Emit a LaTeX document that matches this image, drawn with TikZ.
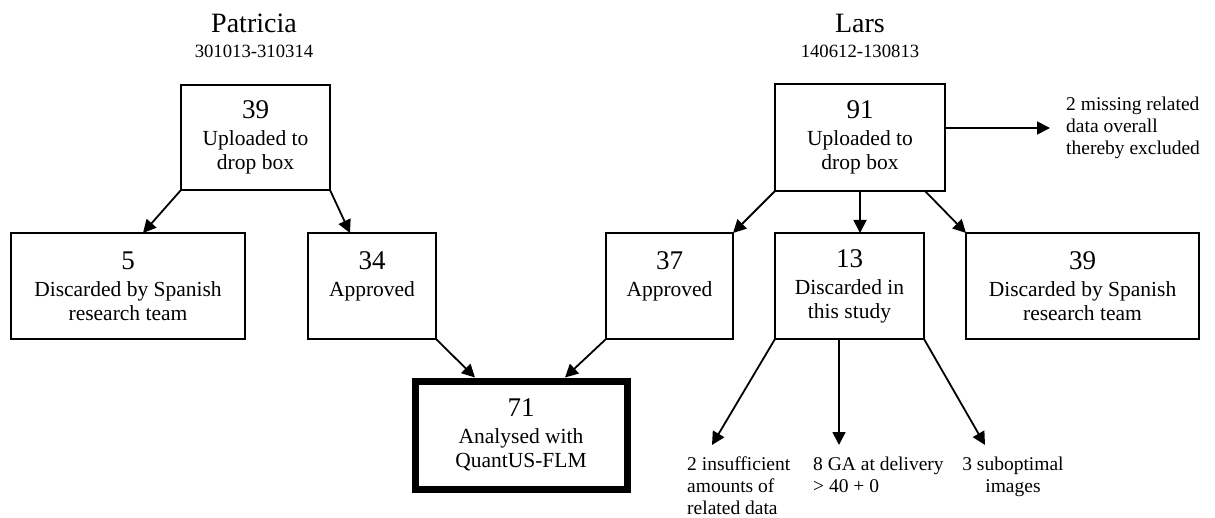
\documentclass[tikz,border=0pt]{standalone}
\usepackage{fontspec}
\setmainfont{Liberation Serif}
\usetikzlibrary{arrows.meta}
\newcommand{\numf}{\fontsize{27}{24}\selectfont}
\begin{document}
\begin{tikzpicture}[x=1pt,y=-1pt,
  box/.style={draw,line width=1.5pt,outer sep=0pt,inner sep=0pt,align=center,
    font=\fontsize{21.5}{24}\selectfont},
  thickbox/.style={box,line width=7pt},
  note/.style={inner sep=0pt,font=\fontsize{19.5}{22}\selectfont},
  title/.style={inner sep=0pt,anchor=base,font=\fontsize{28}{30}\selectfont},
  dates/.style={inner sep=0pt,anchor=base,font=\fontsize{18.7}{20}\selectfont},
  arr/.style={line width=1.8pt,-{Triangle[length=13pt,width=13pt]}}]
\useasboundingbox (0,0) rectangle (1215,518);
% titles
\node[title] (pt) at (254,33) {Patricia};
\node[dates] (pd) at (254,58) {301013-310314};
\node[title] (lt) at (860,33) {Lars};
\node[dates] (ld) at (860,58) {140612-130813};
% Patricia boxes
\node[box,minimum width=149pt,minimum height=105pt] (P39) at (255.5,137.5)
  {{\numf 39}\\[3pt]Uploaded to\\drop box};
\node[box,minimum width=234pt,minimum height=106pt] (P5) at (128,286)
  {{\numf 5}\\[3pt]Discarded by Spanish\\research team};
\node[box,minimum width=128pt,minimum height=106pt] (P34) at (372,286)
  {{\numf 34}\\[3pt]Approved\\\mbox{}};
% Lars boxes
\node[box,minimum width=170pt,minimum height=107pt] (L91) at (860,137.5)
  {{\numf 91}\\[3pt]Uploaded to\\drop box};
\node[box,minimum width=127pt,minimum height=106pt] (L37) at (669.5,286)
  {{\numf 37}\\[3pt]Approved\\\mbox{}};
\node[box,minimum width=149pt,minimum height=106pt] (L13) at (849.5,286)
  {{\numf 13}\\[3pt]Discarded in\\this study};
\node[box,minimum width=233pt,minimum height=106pt] (L39) at (1082.5,286)
  {{\numf 39}\\[3pt]Discarded by Spanish\\research team};
% final
\node[thickbox,minimum width=212pt,minimum height=108pt] (F) at (521,435)
  {{\numf 71}\\[3pt]Analysed with\\QuantUS-FLM};
% notes
\node[note,anchor=west,align=left] (ex) at (1066,128)
  {2 missing related\\data overall\\thereby excluded};
\node[note,anchor=north west,align=left] (t1) at (687,457)
  {2 insufficient\\amounts of\\related data};
\node[note,anchor=north west,align=left] (t2) at (813,457)
  {8 GA at delivery\\{>} 40 + 0};
\node[note,anchor=north,align=center] (t3) at (1013,457)
  {3 suboptimal\\images};
% connectors
\draw[arr] (P39.south west) -- ([xshift=15pt]P5.north);
\draw[arr] (P39.south east) -- ([xshift=-22pt]P34.north);
\draw[arr] (P34.south east) -- ([xshift=-46pt,yshift=3.5pt]F.north);
\draw[arr] (L37.south west) -- ([xshift=44pt,yshift=3.5pt]F.north);
\draw[arr] (L91.south west) -- (L37.north east);
\draw[arr] (L91.south) -- (L91.south |- L13.north);
\draw[arr] ([xshift=-20pt]L91.south east) -- (L39.north west);
\draw[arr] (L91.east |- ex.west) -- ([xshift=-16pt]ex.west);
\draw[arr] (L13.south west) -- ([xshift=25pt,yshift=12pt]t1.north west);
\draw[arr] ([xshift=-10.5pt]L13.south) -- ([xshift=26pt,yshift=12pt]t2.north west);
\draw[arr] (L13.south east) -- ([xshift=-28pt,yshift=12pt]t3.north);
\end{tikzpicture}
\end{document}
